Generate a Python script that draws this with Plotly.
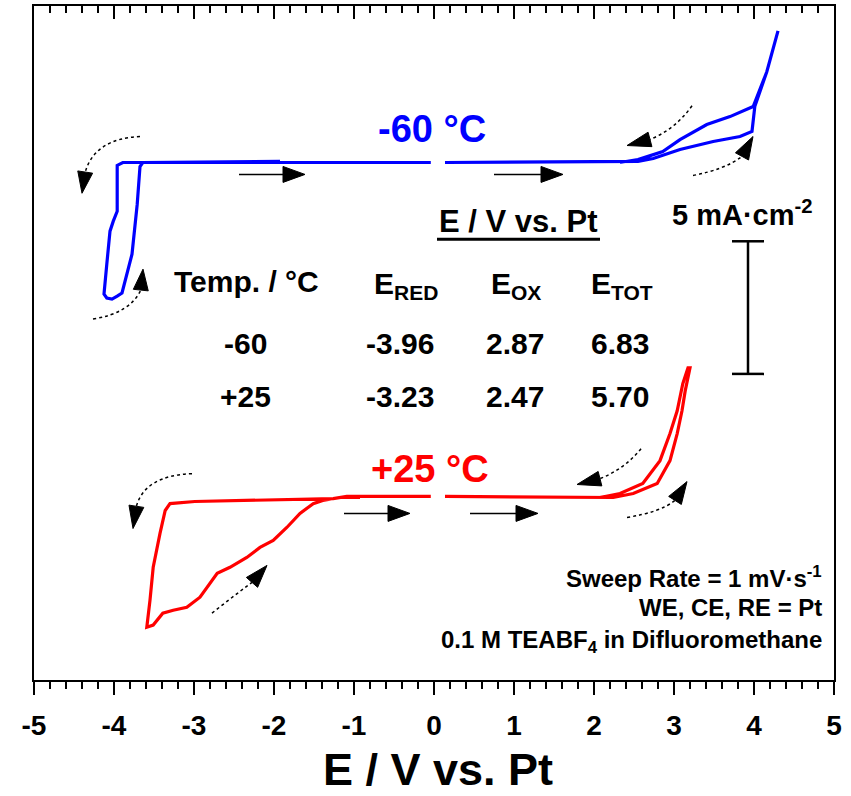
import math
import numpy as np
import plotly.graph_objects as go

# ---------------- data (E in V vs. Pt, j in mA cm^-2 relative to each curve's baseline) -------------
M60_CATH_E = [-0.04, -1.925, -3.89, -3.96, -3.96, -4.01, -4.05, -4.09, -4.125, -4.09, -4.025, -3.96,
              -3.90, -3.775, -3.71, -3.675, -3.64, -1.925]
M60_CATH_J = [0.0, 0.0, 0.0, -0.11, -1.84, -2.22, -2.59, -3.83, -4.96, -5.11, -5.15, -5.04,
              -4.92, -3.46, -1.58, -0.15, 0.0, 0.04]
M60_ANOD_E = [0.1375, 2.55, 2.74, 3.075, 3.49, 3.825, 3.975, 4.01, 4.16, 4.24, 4.30, 4.24, 4.16,
              3.99, 3.70, 3.41, 3.075, 2.86, 2.55, 2.325]
M60_ANOD_J = [0.0, 0.04, 0.15, 0.49, 0.79, 0.98, 1.17, 2.11, 3.42, 4.29, 4.96, 4.29, 3.42,
              2.11, 1.73, 1.43, 0.86, 0.41, 0.11, 0.0]

P25_CATH_E = [-0.04, -1.09, -1.26, -2.99, -3.30, -3.36, -3.425, -3.51, -3.55, -3.59, -3.51, -3.39,
              -3.26, -3.09, -2.925, -2.80, -2.71, -2.55, -2.34, -2.175, -2.01, -1.84, -1.675,
              -1.51, -1.39, -1.175, -0.925]
P25_CATH_J = [0.04, 0.04, -0.04, -0.15, -0.23, -0.49, -1.35, -2.63, -3.87, -4.89, -4.81, -4.36,
              -4.25, -4.14, -3.76, -3.23, -2.86, -2.63, -2.26, -1.88, -1.62, -1.13, -0.60,
              -0.23, -0.11, 0.0, 0.0]
P25_ANOD_E = [0.1375, 2.24, 2.49, 2.79, 2.95, 3.04, 3.10, 3.14, 3.20, 3.175, 3.11, 3.04, 2.95,
              2.825, 2.61, 2.325, 2.075]
P25_ANOD_J = [0.04, 0.0, 0.15, 0.53, 1.39, 2.41, 3.27, 4.02, 4.89, 4.89, 4.29, 3.27, 2.41,
              1.39, 0.53, 0.15, 0.0]

OFFSET_M60 = 19.51   # vertical offset of the -60 °C curve (mA cm^-2)
OFFSET_P25 = 6.88    # vertical offset of the +25 °C curve (mA cm^-2)

SCALE_BAR_J = 5.0    # mA cm^-2
SCALE_BAR_E = 3.925
SCALE_BAR_Y0 = 11.54

TABLE_TEMPS = ["-60", "+25"]
TABLE_ERED = ["-3.96", "-3.23"]
TABLE_EOX = ["2.87", "2.47"]
TABLE_ETOT = ["6.83", "5.70"]

X_TICKS = [-5, -4, -3, -2, -1, 0, 1, 2, 3, 4, 5]

# ---------------- layout geometry ----------------
W, H = 851, 796
ML, MR, MT, MB = 34, 17, 4, 116
XR = [-5, 5]
YR = [0, 25.41]
SX = (W - ML - MR) / (XR[1] - XR[0])
SY = (H - MT - MB) / (YR[1] - YR[0])

FONT = "Liberation Sans, Arial, sans-serif"
BLUE = "#0000FF"
RED = "#FF0000"


def with_gap(e1, j1, e2, j2, off):
    x = list(e1) + [None] + list(e2)
    y = list(np.array(j1) + off) + [None] + list(np.array(j2) + off)
    return x, y


fig = go.Figure()
bx, by = with_gap(M60_CATH_E, M60_CATH_J, M60_ANOD_E, M60_ANOD_J, OFFSET_M60)
rx, ry = with_gap(P25_CATH_E, P25_CATH_J, P25_ANOD_E, P25_ANOD_J, OFFSET_P25)
fig.add_trace(go.Scatter(x=bx, y=by, mode="lines", line=dict(color=BLUE, width=3.2),
                         showlegend=False, hoverinfo="skip", connectgaps=False))
fig.add_trace(go.Scatter(x=rx, y=ry, mode="lines", line=dict(color=RED, width=3.2),
                         showlegend=False, hoverinfo="skip", connectgaps=False))
fig.add_trace(go.Scatter(x=[None], y=[None], xaxis="x2", showlegend=False))

shapes = []


def head(tip, base, half=7.5):
    dx = (tip[0] - base[0]) * SX
    dy = (tip[1] - base[1]) * SY
    L = math.hypot(dx, dy)
    nx, ny = -dy / L, dx / L
    p1 = (base[0] + nx * half / SX, base[1] + ny * half / SY)
    p2 = (base[0] - nx * half / SX, base[1] - ny * half / SY)
    path = f"M {tip[0]},{tip[1]} L {p1[0]},{p1[1]} L {p2[0]},{p2[1]} Z"
    shapes.append(dict(type="path", path=path, xref="x", yref="y",
                       fillcolor="black", line=dict(color="black", width=1)))


def curved_arrow(start, ctrl, end, tip):
    path = f"M {start[0]},{start[1]} Q {ctrl[0]},{ctrl[1]} {end[0]},{end[1]}"
    shapes.append(dict(type="path", path=path, xref="x", yref="y",
                       line=dict(color="black", width=1.5, dash="dot")))
    head(tip, end)


def straight_arrow(x0, x1, y, hl=22):
    base = x1 - hl / SX
    shapes.append(dict(type="line", x0=x0, x1=base, y0=y, y1=y, xref="x", yref="y",
                       line=dict(color="black", width=1.5)))
    head((x1, y), (base, y), half=8)


# sweep direction arrows
straight_arrow(-2.4375, -1.6125, 19.06)
straight_arrow(0.75, 1.6125, 19.06)
straight_arrow(-1.125, -0.30, 6.28)
straight_arrow(0.45, 1.30, 6.28)

curved_arrow((-3.675, 20.49), (-4.2375, 20.41), (-4.36, 19.15), (-4.40, 18.35))
curved_arrow((-4.2625, 13.61), (-3.80, 13.83), (-3.665, 14.70), (-3.6375, 15.49))
curved_arrow((3.225, 21.65), (3.0125, 20.75), (2.70, 20.38), (2.4125, 20.15))
curved_arrow((3.2375, 19.02), (3.6375, 19.25), (3.85, 19.74), (3.9875, 20.49))
curved_arrow((2.5875, 8.72), (2.3875, 7.97), (2.075, 7.59), (1.7875, 7.37))
curved_arrow((2.4125, 6.13), (2.825, 6.32), (3.0125, 6.77), (3.1625, 7.48))
curved_arrow((-3.025, 7.78), (-3.6125, 7.71), (-3.72, 6.55), (-3.7625, 5.71))
curved_arrow((-2.775, 2.52), (-2.525, 3.12), (-2.275, 3.68), (-2.0875, 4.32))

# scale bar
cap = 16 / SX
shapes.append(dict(type="line", x0=SCALE_BAR_E, x1=SCALE_BAR_E, y0=SCALE_BAR_Y0,
                   y1=SCALE_BAR_Y0 + SCALE_BAR_J, line=dict(color="black", width=2.5)))
for yy in (SCALE_BAR_Y0, SCALE_BAR_Y0 + SCALE_BAR_J):
    shapes.append(dict(type="line", x0=SCALE_BAR_E - cap, x1=SCALE_BAR_E + cap, y0=yy, y1=yy,
                       line=dict(color="black", width=2.5)))

# underline of table header
shapes.append(dict(type="line", x0=0.0375, x1=2.075, y0=16.62, y1=16.62,
                   line=dict(color="black", width=3)))

ann = []


def txt(x, y, s, size, color="black", xanchor="center", yanchor="middle", xref="x", yref="y"):
    ann.append(dict(x=x, y=y, text=s, showarrow=False, xref=xref, yref=yref,
                    xanchor=xanchor, yanchor=yanchor,
                    font=dict(family=FONT, size=size, color=color, weight="bold")))


TF = 30
txt(-0.02, 20.79, "-60 °C", 38, BLUE)
txt(-0.05, 7.97, "+25 °C", 38, RED)
txt(1.05, 17.28, "E / V vs. Pt", 31)
txt(-2.35, 15.04, "Temp. / °C", TF)
txt(-0.78, 14.88, "E<sub>RED</sub>", TF, xanchor="left")
txt(0.69, 14.88, "E<sub>OX</sub>", TF, xanchor="left")
txt(1.94, 14.88, "E<sub>TOT</sub>", TF, xanchor="left")
for i, yy in enumerate([12.67, 10.68]):
    txt(-2.36, yy, TABLE_TEMPS[i], TF)
    txt(-0.425, yy, TABLE_ERED[i], TF)
    txt(1.0125, yy, TABLE_EOX[i], TF)
    txt(2.325, yy, TABLE_ETOT[i], TF)

txt(3.86, 17.6, "5 mA·cm<sup>-2</sup>", 29)
txt(4.87, 3.87, "Sweep Rate = 1 mV·s<sup>-1</sup>", 24, xanchor="right")
txt(4.87, 2.74, "WE, CE, RE = Pt", 24, xanchor="right")
txt(4.87, 1.47, "0.1 M TEABF<sub>4</sub> in Difluoromethane", 24, xanchor="right")

# axis title
txt(0.05, -0.133, "E / V vs. Pt", 45, xref="x", yref="paper")

fig.update_layout(
    width=W, height=H,
    margin=dict(l=ML, r=MR, t=MT, b=MB),
    paper_bgcolor="white", plot_bgcolor="white",
    shapes=shapes, annotations=ann, showlegend=False,
    xaxis=dict(range=XR, tickmode="array", tickvals=X_TICKS, ticktext=[str(v) for v in X_TICKS],
               ticks="outside", ticklen=13, tickwidth=2, tickcolor="black",
               minor=dict(dtick=0.2, ticks="outside", ticklen=7, tickwidth=2, tickcolor="black"),
               showline=True, linewidth=2, linecolor="black", mirror=True,
               showgrid=False, zeroline=False, ticklabelstandoff=6,
               tickfont=dict(family=FONT, size=28, color="black", weight="bold")),
    xaxis2=dict(range=XR, overlaying="x", side="top", anchor="y", dtick=1, tick0=0,
                ticks="inside", ticklen=13, tickwidth=2, tickcolor="black",
                minor=dict(dtick=0.2, ticks="inside", ticklen=7, tickwidth=2, tickcolor="black"),
                showticklabels=False, showgrid=False, zeroline=False, showline=False),
    yaxis=dict(range=YR, showticklabels=False, ticks="", showgrid=False, zeroline=False,
               showline=True, linewidth=2, linecolor="black", mirror=True),
)

fig.write_html("out.html")
